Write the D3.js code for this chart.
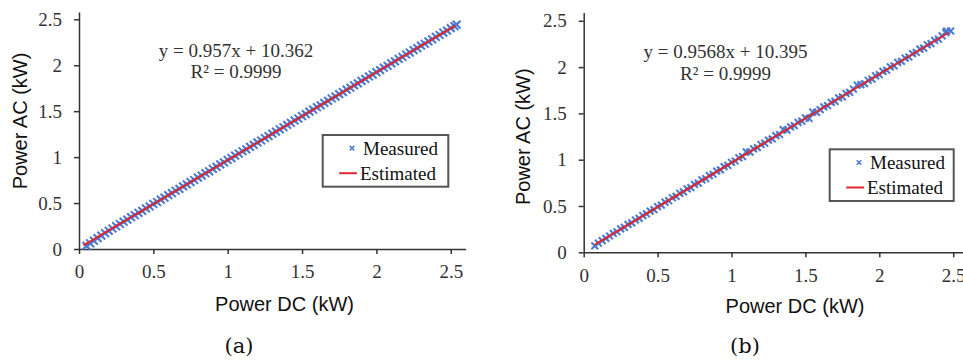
<!DOCTYPE html>
<html>
<head>
<meta charset="utf-8">
<script src="https://cdn.jsdelivr.net/npm/d3@7"></script>
<style>
	body { margin: 0; background: #fff; }
	svg { display: block; }
</style>
</head>
<body>
<script>
(function() {

	var width = 963;
	var height = 360;

	// data (kW)
	var xTicks = [0, 0.5, 1, 1.5, 2, 2.5];
	var yTicks = [0, 0.5, 1, 1.5, 2, 2.5];
	var tickLabels = ['0', '0.5', '1', '1.5', '2', '2.5'];

	var measuredA = [
		[0.050,0.034],[0.075,0.062],[0.100,0.090],[0.125,0.118],[0.150,0.146],[0.175,0.172],[0.200,0.198],[0.225,0.223],
		[0.250,0.248],[0.275,0.272],[0.300,0.297],[0.325,0.320],[0.350,0.346],[0.375,0.368],[0.400,0.394],[0.425,0.415],
		[0.450,0.442],[0.475,0.463],[0.500,0.490],[0.525,0.511],[0.550,0.538],[0.575,0.559],[0.600,0.586],[0.625,0.607],
		[0.650,0.634],[0.675,0.655],[0.700,0.682],[0.725,0.703],[0.750,0.729],[0.775,0.751],[0.800,0.777],[0.825,0.798],
		[0.850,0.825],[0.875,0.846],[0.900,0.873],[0.925,0.894],[0.950,0.921],[0.975,0.942],[1.000,0.969],[1.025,0.990],
		[1.050,1.016],[1.075,1.037],[1.100,1.064],[1.125,1.085],[1.150,1.112],[1.175,1.133],[1.200,1.160],[1.225,1.181],
		[1.250,1.208],[1.275,1.229],[1.300,1.256],[1.325,1.277],[1.350,1.303],[1.375,1.325],[1.400,1.351],[1.425,1.372],
		[1.450,1.399],[1.475,1.420],[1.500,1.447],[1.525,1.468],[1.550,1.495],[1.575,1.516],[1.600,1.543],[1.625,1.564],
		[1.650,1.590],[1.675,1.612],[1.700,1.638],[1.725,1.659],[1.750,1.686],[1.775,1.707],[1.800,1.734],[1.825,1.755],
		[1.850,1.782],[1.875,1.803],[1.900,1.830],[1.925,1.851],[1.950,1.878],[1.975,1.899],[2.000,1.925],[2.025,1.947],
		[2.050,1.973],[2.075,1.994],[2.100,2.021],[2.125,2.042],[2.150,2.069],[2.175,2.090],[2.200,2.117],[2.225,2.138],
		[2.250,2.165],[2.275,2.186],[2.300,2.213],[2.325,2.234],[2.350,2.260],[2.375,2.282],[2.400,2.308],[2.425,2.329],
		[2.450,2.356],[2.475,2.377],[2.500,2.404],[2.525,2.426],[2.540,2.441]
	];
	var estimatedA = [[0.03, 0.039], [2.53, 2.432]];

	var measuredB = [
		[0.075,0.070],[0.100,0.098],[0.125,0.126],[0.150,0.150],[0.175,0.176],[0.200,0.204],[0.225,0.222],[0.250,0.253],
		[0.275,0.270],[0.300,0.302],[0.325,0.318],[0.350,0.349],[0.375,0.366],[0.400,0.397],[0.425,0.414],[0.450,0.445],
		[0.475,0.461],[0.500,0.493],[0.525,0.509],[0.550,0.541],[0.575,0.557],[0.600,0.589],[0.625,0.604],[0.650,0.637],
		[0.675,0.652],[0.700,0.685],[0.725,0.699],[0.750,0.733],[0.775,0.747],[0.800,0.781],[0.825,0.795],[0.850,0.829],
		[0.875,0.843],[0.900,0.877],[0.925,0.890],[0.950,0.925],[0.975,0.938],[1.000,0.972],[1.025,0.986],[1.050,1.020],
		[1.075,1.034],[1.100,1.084],[1.125,1.082],[1.150,1.116],[1.175,1.130],[1.200,1.164],[1.225,1.178],[1.250,1.212],
		[1.275,1.225],[1.300,1.260],[1.325,1.272],[1.350,1.324],[1.375,1.320],[1.400,1.355],[1.425,1.368],[1.450,1.403],
		[1.475,1.416],[1.500,1.451],[1.525,1.445],[1.550,1.515],[1.575,1.512],[1.600,1.541],[1.625,1.571],[1.650,1.583],
		[1.675,1.619],[1.700,1.631],[1.725,1.667],[1.750,1.679],[1.775,1.715],[1.800,1.727],[1.825,1.763],[1.850,1.806],
		[1.875,1.810],[1.900,1.822],[1.925,1.858],[1.950,1.870],[1.975,1.906],[2.000,1.918],[2.025,1.954],[2.050,1.966],
		[2.075,2.002],[2.100,2.014],[2.125,2.050],[2.150,2.062],[2.175,2.097],[2.200,2.109],[2.225,2.145],[2.250,2.158],
		[2.275,2.193],[2.300,2.205],[2.325,2.241],[2.350,2.253],[2.375,2.289],[2.400,2.301],[2.425,2.337],[2.450,2.372],
		[2.456,2.390],[2.483,2.390]
	];
	var estimatedB = [[0.076, 0.083], [2.467, 2.371]];

	var equationA = ['y = 0.957x + 10.362', 'R² = 0.9999'];
	var equationB = ['y = 0.9568x + 10.395', 'R² = 0.9999'];
	var legendLabels = ['Measured', 'Estimated'];
	var xTitle = 'Power DC (kW)';
	var yTitle = 'Power AC (kW)';
	var captions = ['(a)', '(b)'];

	var blue = '#4a78cf';
	var red = '#e3262c';
	var serif = '"Liberation Serif", "Times New Roman", serif';
	var sans = '"Liberation Sans", Arial, sans-serif';

	var svg = d3.select('body')
		.append('svg')
			.attr('width', width)
			.attr('height', height);

	var panels = [
		{ measured: measuredA, estimated: estimatedA, equation: equationA, caption: captions[0],
			x0: 79, y0: 249, xPx: 148.7, yPx: 91.88, xMax: 2.6, yMax: 2.58, mark: 3.9,
			eqX: 236, eqY: [57, 78], legend: { x: 322.7, y: 135, w: 125.6, h: 51.7 },
			xTitle: [284.5, 311], yTitle: [27, 121], capPos: [239, 353] },
		{ measured: measuredB, estimated: estimatedB, equation: equationB, caption: captions[1],
			x0: 583.7, y0: 252.3, xPx: 147.8, yPx: 92.6, xMax: 2.65, yMax: 2.59, mark: 3.4,
			eqX: 725.5, eqY: [57.5, 80], legend: { x: 829.7, y: 149.3, w: 124, h: 51.7 },
			xTitle: [795, 313], yTitle: [530, 136.7], capPos: [745, 353] }
	];

	function cross(sel, size, sw) {
		sel.append('path')
			.attr('d', 'M' + (-size) + ',' + (-size) + 'L' + size + ',' + size +
				'M' + (-size) + ',' + size + 'L' + size + ',' + (-size))
			.style('stroke', blue)
			.style('stroke-width', sw)
			.style('fill', 'none');
	}

	function drawPanel(p) {

		var x = d3.scaleLinear()
			.domain([0, p.xMax])
			.range([p.x0, p.x0 + p.xMax * p.xPx]);

		var y = d3.scaleLinear()
			.domain([0, p.yMax])
			.range([p.y0, p.y0 - p.yMax * p.yPx]);

		var g = svg.append('g');

		// axes
		g.append('g')
			.attr('transform', 'translate(' + p.x0 + ',0)')
			.call(d3.axisLeft(y)
				.tickValues(yTicks)
				.tickFormat(function(d, i) { return tickLabels[i]; })
				.tickSize(5)
				.tickSizeOuter(0)
				.tickPadding(12));

		g.append('g')
			.attr('transform', 'translate(0,' + p.y0 + ')')
			.call(d3.axisBottom(x)
				.tickValues(xTicks)
				.tickFormat(function(d, i) { return tickLabels[i]; })
				.tickSize(5)
				.tickSizeOuter(0)
				.tickPadding(11));

		g.selectAll('.domain, .tick line')
			.style('stroke', '#333')
			.style('stroke-width', 1.5);

		g.selectAll('.tick text')
			.style('font-family', serif)
			.style('font-size', '19px')
			.style('fill', '#333');

		// measured points
		g.append('g')
			.selectAll('g')
			.data(p.measured)
			.enter()
			.append('g')
				.attr('transform', function(d) { return 'translate(' + x(d[0]) + ',' + y(d[1]) + ')'; })
				.each(function() { cross(d3.select(this), p.mark, 2); });

		// regression line
		g.append('path')
			.datum(p.estimated)
			.attr('d', d3.line()
				.x(function(d) { return x(d[0]); })
				.y(function(d) { return y(d[1]); }))
			.style('stroke', red)
			.style('stroke-width', 2)
			.style('fill', 'none');

		// equation
		g.selectAll('.eq')
			.data(p.equation)
			.enter()
			.append('text')
				.attr('x', p.eqX)
				.attr('y', function(d, i) { return p.eqY[i]; })
				.attr('text-anchor', 'middle')
				.style('font-family', serif)
				.style('font-size', '19px')
				.style('fill', '#333')
				.text(function(d) { return d; });

		// legend
		var L = p.legend;
		g.append('rect')
			.attr('x', L.x)
			.attr('y', L.y)
			.attr('width', L.w)
			.attr('height', L.h)
			.style('fill', '#fff')
			.style('stroke', '#555')
			.style('stroke-width', 2);

		var m = g.append('g').attr('transform', 'translate(' + (L.x + 29.3) + ',' + (L.y + 13.2) + ')');
		cross(m, 2.3, 1.5);

		g.append('line')
			.attr('x1', L.x + 16.5)
			.attr('x2', L.x + 34.3)
			.attr('y1', L.y + 38.2)
			.attr('y2', L.y + 38.2)
			.style('stroke', red)
			.style('stroke-width', 2);

		g.append('text')
			.attr('x', L.x + 40.3)
			.attr('y', L.y + 19.5)
			.style('font-family', serif)
			.style('font-size', '19px')
			.style('fill', '#111')
			.text(legendLabels[0]);

		g.append('text')
			.attr('x', L.x + 37.3)
			.attr('y', L.y + 44.5)
			.style('font-family', serif)
			.style('font-size', '19px')
			.style('fill', '#111')
			.text(legendLabels[1]);

		// axis titles
		g.append('text')
			.attr('x', p.xTitle[0])
			.attr('y', p.xTitle[1])
			.attr('text-anchor', 'middle')
			.style('font-family', sans)
			.style('font-size', '20px')
			.style('fill', '#111')
			.text(xTitle);

		g.append('text')
			.attr('transform', 'translate(' + p.yTitle[0] + ',' + p.yTitle[1] + ') rotate(-90)')
			.attr('text-anchor', 'middle')
			.style('font-family', sans)
			.style('font-size', '20px')
			.style('fill', '#111')
			.text(yTitle);

		// caption
		g.append('text')
			.attr('x', p.capPos[0])
			.attr('y', p.capPos[1])
			.attr('text-anchor', 'middle')
			.style('font-family', '"DejaVu Serif", serif')
			.style('font-size', '21px')
			.style('fill', '#111')
			.text(p.caption);
	}

	panels.forEach(drawPanel);

})();
</script>
</body>
</html>
